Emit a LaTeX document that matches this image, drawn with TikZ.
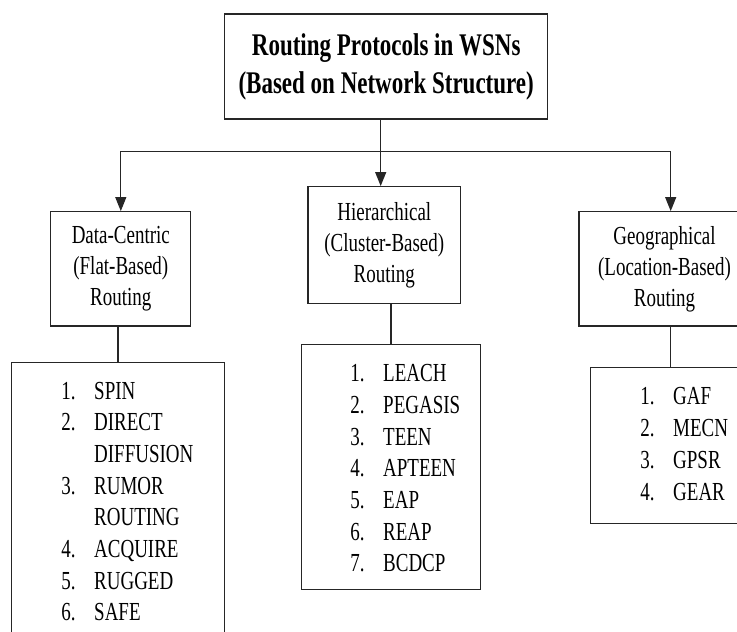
\documentclass[tikz,border=0pt]{standalone}
\usepackage{fontspec}
\setmainfont{Liberation Serif}[FakeStretch=0.73]
\usetikzlibrary{arrows.meta, positioning}
\tikzset{
  % Box styles
  titlebox/.style={rectangle, draw=black!85, line width=1.3pt, minimum width=323pt, minimum height=105pt, font=\fontsize{31.5}{38}\selectfont\bfseries, align=center},
  classbox/.style={rectangle, draw=black!85, line width=1.3pt, minimum height=114.3pt, font=\fontsize{26}{31}\selectfont, align=center, inner sep=0pt},
  listbox/.style={rectangle, draw=black!85, line width=1.3pt, inner sep=0pt},
  % Text styles
  itemtext/.style={anchor=base west, inner sep=0pt, font=\fontsize{26}{31}\selectfont},
  % Arrow styles
  arrow/.style={-{Triangle[width=11pt, length=14pt]}, line width=1.2pt, black!85},
  link/.style={line width=1.2pt, black!85}
}
\begin{document}
\begin{tikzpicture}[x=1pt, y=-1pt]
  \useasboundingbox (0,0) rectangle (737,632);

  % Root
  \node[titlebox] (root) at (386.2,66.5) {Routing Protocols in WSNs\\(Based on Network Structure)};

  % Categories
  \node[classbox, minimum width=140pt] (flat) at (120.8,268.9) {Data-Centric\\(Flat-Based)\\Routing};
  \node[classbox, minimum width=152.7pt, minimum height=116.6pt] (hier) at (384.3,245) {Hierarchical\\(Cluster-Based)\\Routing};
  \node[classbox, minimum width=171pt] (geo) at (664.5,268.9) {Geographical\\(Location-Based)\\Routing};

  % Arrows from root
  \coordinate (hub) at (380.7,151.7);
  \draw[link] (root.south -| hub) -- (hub);
  \draw[arrow] (hub) -- (hub |- hier.north);
  \draw[arrow] (hub) -| (flat.north);
  \draw[arrow] (hub) -| ([xshift=6.2pt]geo.north);

  % Protocol lists
  \node[listbox, minimum width=213.4pt, minimum height=290pt, anchor=north] (flatlist) at (118,361.7) {};
  \node[listbox, minimum width=179.1pt, minimum height=245pt] (hierlist) at (390.9,466.8) {};
  \node[listbox, minimum width=160.6pt, minimum height=155.6pt] (geolist) at (670.7,445.5) {};

  \draw[link] (flatlist.north |- flat.south) -- (flatlist.north);
  \draw[link] (hierlist.north |- hier.south) -- (hierlist.north);
  \draw[link] (geolist.north |- geo.south) -- (geolist.north);

  \foreach \i/\num/\name in {0/1./SPIN, 1/2./DIRECT, 2//DIFFUSION, 3/3./RUMOR, 4//ROUTING, 5/4./ACQUIRE, 6/5./RUGGED, 7/6./SAFE} {
    \node[itemtext] (flatnum\i) at (61.1,399+\i*31.7) {\num};
    \node[itemtext] (flatname\i) at (94,399+\i*31.7) {\name};
  }
  \foreach \i/\name in {1/LEACH, 2/PEGASIS, 3/TEEN, 4/APTEEN, 5/EAP, 6/REAP, 7/BCDCP} {
    \node[itemtext] (hiernum\i) at (350.2,381.7+\i*31.7-31.7) {\i.};
    \node[itemtext] (hiername\i) at (383,381.7+\i*31.7-31.7) {\name};
  }
  \foreach \i/\name in {1/GAF, 2/MECN, 3/GPSR, 4/GEAR} {
    \node[itemtext] (geonum\i) at (640.2,404+\i*32-32) {\i.};
    \node[itemtext] (geoname\i) at (673,404+\i*32-32) {\name};
  }
\end{tikzpicture}
\end{document}
